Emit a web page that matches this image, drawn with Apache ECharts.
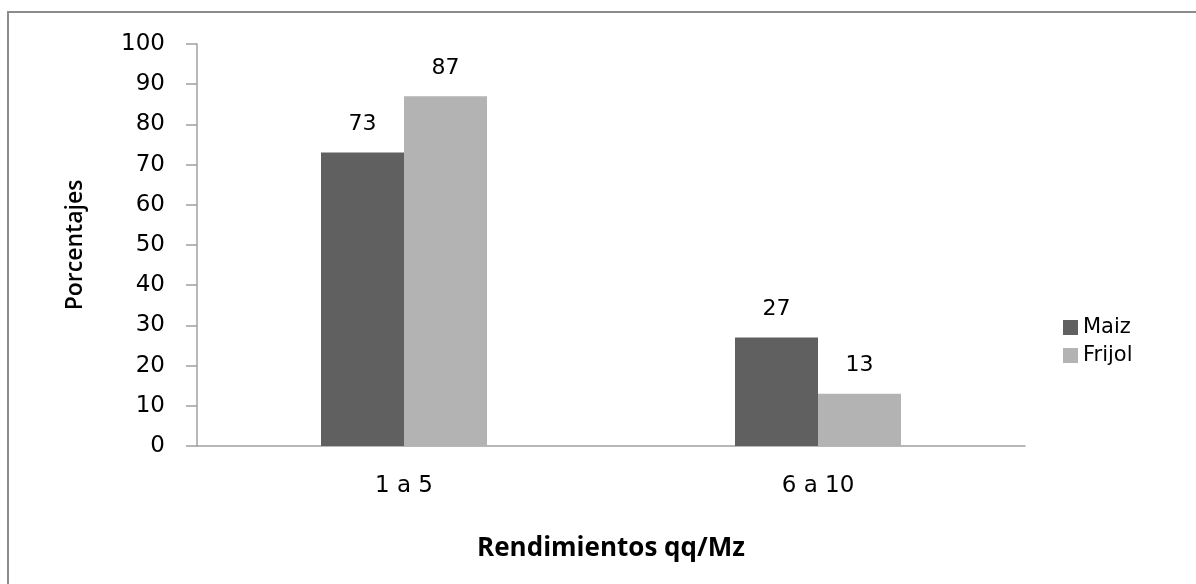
<!DOCTYPE html>
<html>
<head>
<meta charset="utf-8">
<script src="https://cdn.jsdelivr.net/npm/echarts@6/dist/echarts.min.js"></script>
<style>
  html, body { margin: 0; padding: 0; background: #fff; overflow: hidden; }
  #frame {
    position: absolute; left: 7px; top: 11px; width: 1200px; height: 600px;
    border-left: 2px solid #8c8c8c; border-top: 2px solid #8c8c8c;
  }
  #chart { position: absolute; left: 0; top: 0; width: 1196px; height: 584px; }
</style>
</head>
<body>
<div id="frame"></div>
<div id="chart"></div>
<script>
  var categories = ['1 a 5', '6 a 10'];
  var maiz = [73, 27];
  var frijol = [87, 13];

  var tickFont = 'DejaVu Sans';
  var titleFont = 'Open Sans';

  var chart = echarts.init(document.getElementById('chart'));
  chart.setOption({
    animation: false,
    grid: { left: 197, right: 171, top: 44, bottom: 138 },
    legend: {
      orient: 'vertical',
      left: 1058,
      top: 312,
      itemWidth: 15,
      itemHeight: 15,
      itemGap: 7,
      icon: 'rect',
      textStyle: { fontFamily: tickFont, fontSize: 21, color: '#000' },
      data: ['Maiz', 'Frijol']
    },
    xAxis: {
      type: 'category',
      data: categories,
      axisLine: { lineStyle: { color: '#a0a0a0', width: 1.5 } },
      axisTick: { show: false },
      axisLabel: { fontFamily: tickFont, fontSize: 23, color: '#000', margin: 29 },
      name: 'Rendimientos qq/Mz',
      nameLocation: 'middle',
      nameGap: 90,
      nameTextStyle: { fontFamily: titleFont, fontWeight: 'bold', fontSize: 26, color: '#000' }
    },
    yAxis: {
      type: 'value',
      min: 0,
      max: 100,
      interval: 10,
      axisLine: { show: true, lineStyle: { color: '#a0a0a0', width: 1.5 } },
      axisTick: { show: true, length: 11, lineStyle: { color: '#a0a0a0', width: 1.5 } },
      splitLine: { show: false },
      axisLabel: { fontFamily: tickFont, fontSize: 23, color: '#000', margin: 32 },
      name: 'Porcentajes',
      nameLocation: 'middle',
      nameRotate: 90,
      nameGap: 110,
      nameTextStyle: { fontFamily: titleFont, fontWeight: 600, fontSize: 23, color: '#000' }
    },
    series: [
      {
        name: 'Maiz',
        type: 'bar',
        data: maiz,
        barWidth: 83,
        barGap: '0%',
        itemStyle: { color: '#606060' },
        label: { show: true, position: 'top', distance: 17, fontFamily: tickFont, fontSize: 22, color: '#000' }
      },
      {
        name: 'Frijol',
        type: 'bar',
        data: frijol,
        barWidth: 83,
        barGap: '0%',
        itemStyle: { color: '#b3b3b3' },
        label: { show: true, position: 'top', distance: 17, fontFamily: tickFont, fontSize: 22, color: '#000' }
      }
    ]
  });
</script>
</body>
</html>
